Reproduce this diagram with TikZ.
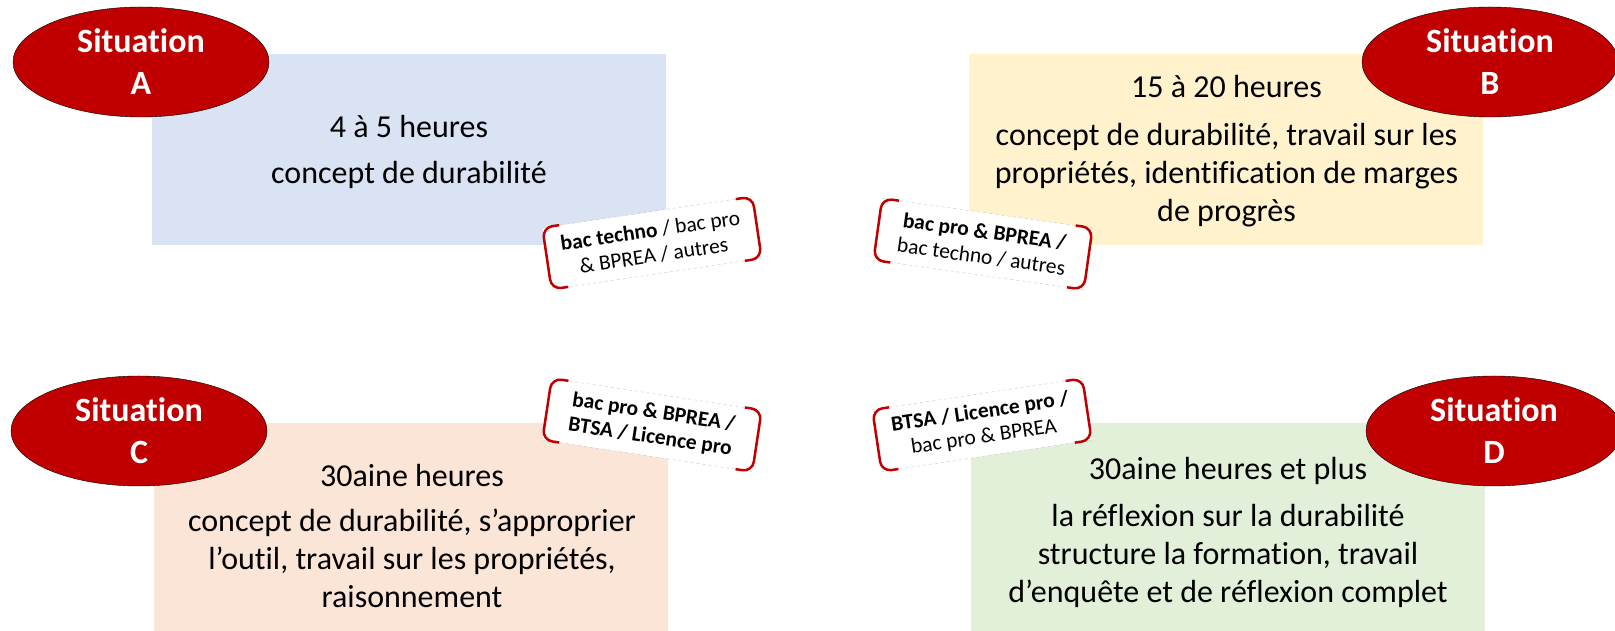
\documentclass[tikz,border=0pt]{standalone}
\usepackage{fontspec}
\setmainfont{Carlito}[Ligatures=NoCommon]
\definecolor{sitred}{RGB}{192,0,0}
\definecolor{boxblue}{RGB}{218,227,243}
\definecolor{boxyellow}{RGB}{255,242,204}
\definecolor{boxorange}{RGB}{251,229,214}
\definecolor{boxgreen}{RGB}{226,240,217}
\usetikzlibrary{shapes.geometric,calc,positioning}

\begin{document}
\begin{tikzpicture}[x=1pt, y=1pt,
    situation/.style={draw=black, thin, ellipse, fill=sitred, text=white, font=\fontsize{34}{42}\selectfont\bfseries,
        minimum width=256pt, minimum height=110pt, inner sep=0pt, align=center},
    heures/.style={rectangle, draw=none, minimum width=514pt, minimum height=191pt, inner sep=0pt},
    boxtext/.style={align=center, font=\fontsize{32}{38}\selectfont, text=black},
    tagbox/.style={rectangle, fill=white, minimum width=212pt, minimum height=62pt, inner sep=0pt,
        align=center, font=\fontsize{21.5}{25}\selectfont},
    tagend/.style={draw=sitred, line width=2.5pt, rounded corners=10pt}]
    \useasboundingbox (0,0) rectangle (1615,631);

    % Boxes
    \node[heures, fill=boxblue] (bA) at (409,481.5) {};
    \node[heures, fill=boxyellow] (bB) at (1225.5,481.5) {};
    \node[heures, fill=boxorange, minimum height=214pt] (bC) at (410.5,101) {};
    \node[heures, fill=boxgreen, minimum height=214pt] (bD) at (1227.5,101) {};

    % Texts
    \node[boxtext] (tA) at ([yshift=-2pt]bA.center) {4 à 5 heures\\[8pt] concept de durabilité};
    \node[boxtext] (tB) at ([xshift=1pt,yshift=-2pt]bB.center) {15 à 20 heures\\[10pt] concept de durabilité, travail sur les\\
        propriétés, identification de marges\\ de progrès};
    \node[boxtext] (tC) at (412,95) {30aine heures\\[7pt] concept de durabilité, s’approprier\\
        l’outil, travail sur les propriétés,\\ raisonnement};
    \node[boxtext] (tD) at (1228,99) {30aine heures et plus\\[9pt] la réflexion sur la durabilité\\
        structure la formation, travail\\ d’enquête et de réflexion complet};

    % Situations
    \node[situation] (sA) at (141,569) {Situation\\A};
    \node[situation] (sB) at (1490,569) {Situation\\B};
    \node[situation] (sC) at (139,200) {Situation\\C};
    \node[situation] (sD) at (1494,200) {Situation\\D};

    % Tags
    \node[tagbox, rotate=8.4] (gA) at (652,388) {\textbf{bac techno} / bac pro\\ \& BPREA / autres};
    \node[tagbox, rotate=-8] (gB) at (983,387) {\textbf{bac pro \& BPREA /}\\ bac techno / autres};
    \node[tagbox, rotate=-8.6] (gC) at (652,206) {\textbf{bac pro \& BPREA /}\\ \textbf{BTSA / Licence pro}};
    \node[tagbox, rotate=8.5] (gD) at (982,206) {\textbf{BTSA / Licence pro /}\\ bac pro \& BPREA};

    \foreach \g in {gA,gB,gC,gD} {
        \draw[gray!45, thin, dashed] (\g.north west) -- (\g.north east);
        \draw[gray!45, thin, dashed] (\g.south west) -- (\g.south east);
        \draw[tagend] ($(\g.north west)!0.08!(\g.north east)$) -- (\g.north west)
            -- (\g.south west) -- ($(\g.south west)!0.08!(\g.south east)$);
        \draw[tagend] ($(\g.north east)!0.08!(\g.north west)$) -- (\g.north east)
            -- (\g.south east) -- ($(\g.south east)!0.08!(\g.south west)$);
    }
\end{tikzpicture}
\end{document}
